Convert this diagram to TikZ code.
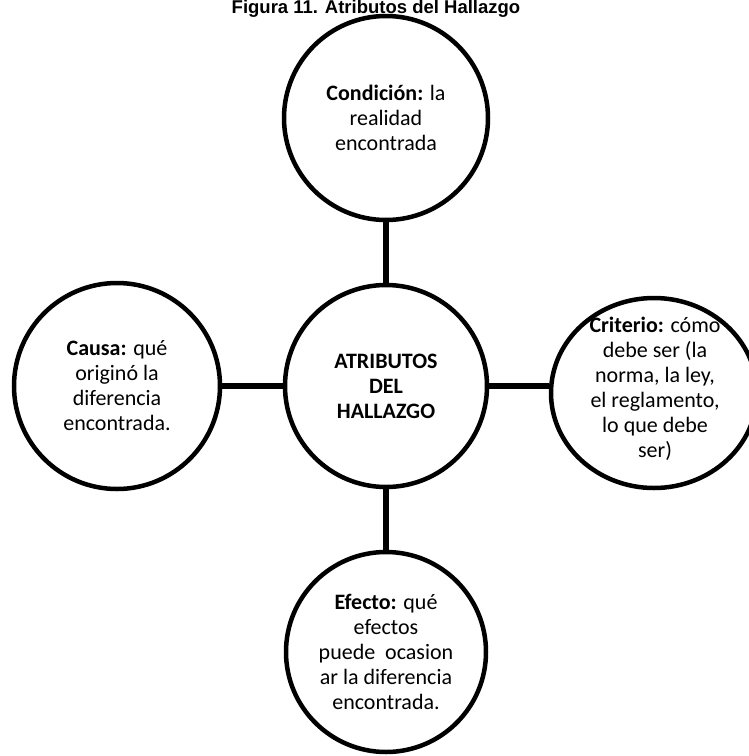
\documentclass[tikz,border=0pt]{standalone}
\usepackage{fontspec}
\setmainfont{Carlito}
\newfontfamily\titlefont{Liberation Sans}
\usetikzlibrary{shapes.geometric}
\begin{document}
\begin{tikzpicture}[x=1pt,y=-1pt,
  bubble/.style={circle, draw, line width=4.5pt, fill=white, inner sep=0pt, align=center,
    font=\fontsize{22}{25}\selectfont},
  oval/.style={ellipse, draw, line width=4.5pt, fill=white, inner sep=0pt},
  txt/.style={align=center, inner sep=0pt, font=\fontsize{22}{25}\selectfont},
  link/.style={line width=5.5pt}]
\useasboundingbox (0,0) rectangle (749,756);
\node[font=\titlefont\bfseries\fontsize{18.5}{22}\selectfont, anchor=base, inner sep=0pt] (title) at (376,13.5) {Figura 11. Atributos del Hallazgo};
\node[bubble, minimum size=204pt] (top) at (386,118) {\textbf{Condición:} la\\realidad\\encontrada};
\node[bubble, minimum size=202pt] (ctr) at (386,386) {\textbf{ATRIBUTOS}\\\textbf{DEL}\\\textbf{HALLAZGO}};
\node[bubble, minimum size=206pt] (left) at (117,386) {\textbf{Causa:} qué\\originó la\\diferencia\\encontrada.};
\node[oval, minimum width=206pt, minimum height=190pt] (right) at (654,393) {};
\node[txt] (rightT) at (655,389) {\textbf{Criterio:} cómo\\debe ser (la\\norma, la ley,\\el reglamento,\\lo que debe\\ser)};
\node[bubble, minimum size=200pt] (bot) at (386,652) {\textbf{Efecto:} qué\\efectos\\puede\ \ ocasion\\ar la diferencia\\encontrada.};
\draw[link] (top.south) -- (ctr.north);
\draw[link] (ctr.south) -- (bot.north);
\draw[link] (left.east) -- (ctr.west);
\draw[link] (ctr.east) -- (ctr.east -| right.west);
\end{tikzpicture}
\end{document}
